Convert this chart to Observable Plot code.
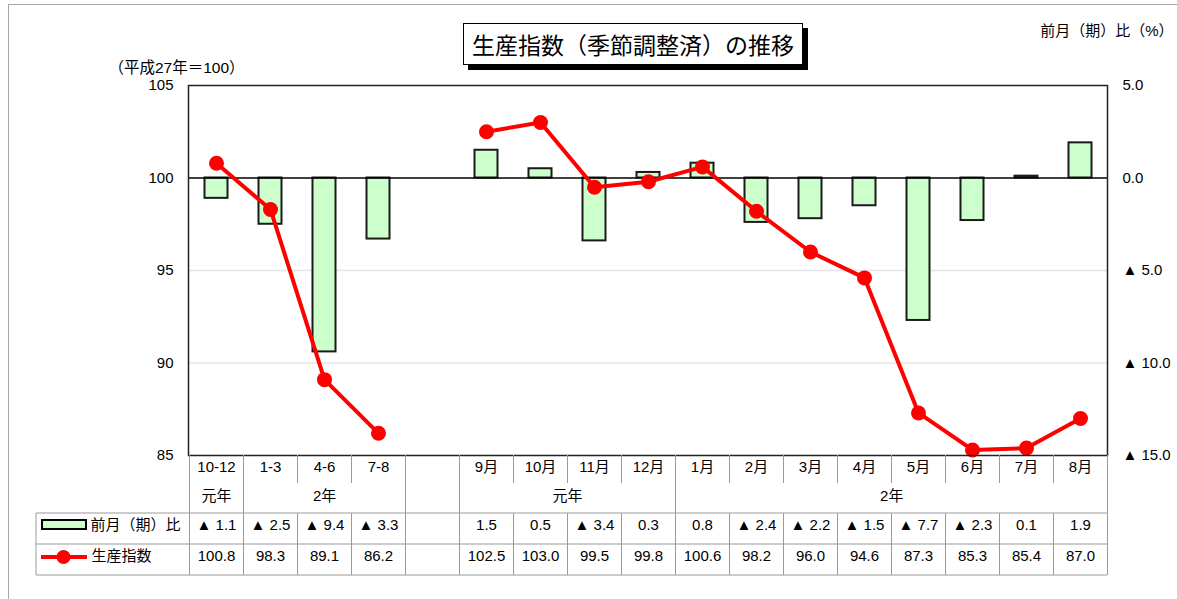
<!DOCTYPE html>
<html><head><meta charset="utf-8">
<script src="https://cdn.jsdelivr.net/npm/d3@7"></script>
<script src="https://cdn.jsdelivr.net/npm/@observablehq/plot@0.6"></script>
<style>
html,body{margin:0;padding:0;background:#fff;overflow:hidden}
#wrap{position:relative;width:1177px;height:599px}
#border{position:absolute;left:8px;top:4px;width:1200px;height:700px;border-top:1.5px solid #a8a8a8;border-left:1.5px solid #a8a8a8;pointer-events:none}
#title{position:absolute;left:463px;top:23px;width:338px;height:40px;border:1px solid #000;background:#fff;box-shadow:5px 5px 0 #000;font-family:"Noto Sans CJK JP",sans-serif;font-size:23px;line-height:40px;text-align:center;color:#000}
</style></head><body>
<div id="wrap"><div id="chart"></div><div id="title">生産指数（季節調整済）の推移</div><div id="border"></div></div>
<script>
const categories = ["10-12","1-3","4-6","7-8"," ","9月","10月","11月","12月","1月","2月","3月","4月","5月","6月","7月","8月"];
const changePct = [-1.1,-2.5,-9.4,-3.3,null,1.5,0.5,-3.4,0.3,0.8,-2.4,-2.2,-1.5,-7.7,-2.3,0.1,1.9];
const productionIndex = [100.8,98.3,89.1,86.2,null,102.5,103.0,99.5,99.8,100.6,98.2,96.0,94.6,87.3,85.3,85.4,87.0];
const yearGroups = [
  {label:"元年", from:"10-12", to:"10-12"},
  {label:"2年", from:"1-3", to:"7-8"},
  {label:"元年", from:"9月", to:"12月"},
  {label:"2年", from:"1月", to:"8月"}
];
const leftTicks = [85,90,95,100,105];
const rightTickLabels = ["▲ 15.0","▲ 10.0","▲ 5.0","0.0","5.0"];
const gridValues = [90,95];
const baseline = 100;

const W = 1177, H = 599, mL = 188, mR = 70, mT = 85, mB = 144;
const bw = (W - mL - mR) / categories.length;
const FONT = '"Liberation Sans","Noto Sans CJK JP",sans-serif';

const rows = categories.map((c,i)=>({cat:c, pct:changePct[i], idx:productionIndex[i]}));
const fmtPct = v => v == null ? "" : (v < 0 ? "▲ " + Math.abs(v).toFixed(1) : v.toFixed(1));
const fmtIdx = v => v == null ? "" : v.toFixed(1);

function tableGrid(index, scales, values, dims) {
  const x = scales.x;
  const b = x.bandwidth ? x.bandwidth() : bw;
  const top = dims.height - dims.marginBottom;
  const r1 = top + 28, r2 = top + 58, r3 = top + 89, r4 = top + 120;
  const legendLeft = 36;
  const edge = i => i < categories.length ? x(categories[i]) : x(categories[categories.length-1]) + b;
  const rightEdge = edge(categories.length);
  const g = d3.create("svg:g");
  const lines = g.append("g").attr("stroke","#9a9a9a").attr("stroke-width",1).attr("fill","none");
  [r2, r3, r4].forEach(y => lines.append("line").attr("x1",legendLeft).attr("x2",rightEdge).attr("y1",y).attr("y2",y));
  lines.append("line").attr("x1",legendLeft).attr("x2",legendLeft).attr("y1",r2).attr("y2",r4);
  const full = new Set();
  yearGroups.forEach(gr => { full.add(categories.indexOf(gr.from)); full.add(categories.indexOf(gr.to) + 1); });
  for (let i = 0; i <= categories.length; i++) {
    const xx = Math.round(edge(i)) + 0.5;
    if (full.has(i)) {
      lines.append("line").attr("x1",xx).attr("x2",xx).attr("y1",top).attr("y2",r4);
    } else {
      lines.append("line").attr("x1",xx).attr("x2",xx).attr("y1",top).attr("y2",r1);
      lines.append("line").attr("x1",xx).attr("x2",xx).attr("y1",r2).attr("y2",r4);
    }
  }
  // legend symbols
  g.append("rect").attr("x",42).attr("y",top+65).attr("width",44).attr("height",9)
    .attr("fill","#ccffcc").attr("stroke","#000").attr("stroke-width",2);
  g.append("line").attr("x1",41).attr("x2",87).attr("y1",top+102).attr("y2",top+102)
    .attr("stroke","#ff0000").attr("stroke-width",4);
  g.append("circle").attr("cx",63.5).attr("cy",top+102).attr("r",7).attr("fill","#ff0000");
  return g.node();
}

const yearMarks = yearGroups.map(gr => {
  const span = categories.indexOf(gr.to) - categories.indexOf(gr.from);
  return Plot.text([gr], {x: d => d.from, text: d => d.label, frameAnchor: "bottom", dy: 45, dx: span * bw / 2, fontSize: 15});
});

const chart = Plot.plot({
  width: W, height: H,
  marginLeft: mL, marginRight: mR, marginTop: mT, marginBottom: mB,
  style: {fontFamily: FONT, fontSize: "15px", color: "#000", background: "#fff"},
  x: {type: "band", domain: categories, padding: 0, axis: null},
  y: {domain: [85, 105], axis: null},
  marks: [
    Plot.ruleY(gridValues, {stroke: "#e4e4e4", strokeWidth: 1.5}),
    Plot.barY(rows.filter(d => d.pct != null), {x: "cat", y1: baseline, y2: d => baseline + d.pct,
      fill: "#ccffcc", stroke: "#1a1a1a", strokeWidth: 2, insetLeft: 15.5, insetRight: 15.5}),
    Plot.ruleY([baseline], {stroke: "#000", strokeWidth: 1.5}),
    Plot.line(rows, {x: "cat", y: d => d.idx == null ? NaN : d.idx, stroke: "#ff0000", strokeWidth: 4}),
    Plot.dot(rows.filter(d => d.idx != null), {x: "cat", y: "idx", r: 7.5, fill: "#ff0000", stroke: null}),
    Plot.frame({stroke: "#222", strokeWidth: 1.5}),
    Plot.axisY(leftTicks, {anchor: "left", tickSize: 0, tickPadding: 15, label: null, fontSize: 15}),
    Plot.axisY(leftTicks, {anchor: "right", tickSize: 0, tickPadding: 15, label: null, fontSize: 15,
      tickFormat: d => rightTickLabels[leftTicks.indexOf(d)]}),
    tableGrid,
    Plot.text(rows, {x: "cat", text: d => d.cat.trim(), frameAnchor: "bottom", dy: 16.5, fontSize: 15}),
    ...yearMarks,
    Plot.text(rows, {x: "cat", text: d => fmtPct(d.pct), frameAnchor: "bottom", dy: 74, fontSize: 15}),
    Plot.text(rows, {x: "cat", text: d => fmtIdx(d.idx), frameAnchor: "bottom", dy: 105.5, fontSize: 15}),
    Plot.text(["前月（期）比"], {text: d => d, frameAnchor: "bottom-left", dx: -98, dy: 74, textAnchor: "start", fontSize: 15}),
    Plot.text(["生産指数"], {text: d => d, frameAnchor: "bottom-left", dx: -97, dy: 105.5, textAnchor: "start", fontSize: 15, letterSpacing: 3}),
    Plot.text(["（平成27年＝100）"], {text: d => d, frameAnchor: "top-left", dx: -80, dy: -24, textAnchor: "start", fontSize: 15.5}),
    Plot.text(["前月（期）比（%）"], {text: d => d, frameAnchor: "top-right", dx: 66, dy: -60, textAnchor: "end", fontSize: 15})
  ]
});
document.getElementById("chart").appendChild(chart);
</script>
</body></html>
